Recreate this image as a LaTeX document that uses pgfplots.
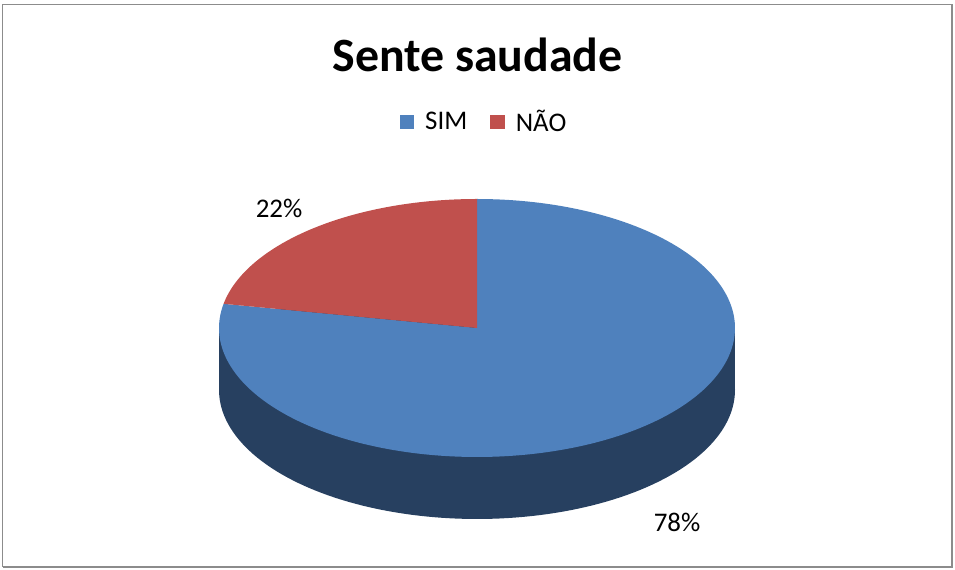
\documentclass[border=0pt]{standalone}
\usepackage{pgfplots}
\pgfplotsset{compat=1.18}
\usepackage{fontspec}
\setmainfont{Carlito}
\definecolor{simtop}{RGB}{79,129,189}
\definecolor{naotop}{RGB}{192,80,77}
\definecolor{simside}{RGB}{39,64,96}
\definecolor{framegray}{RGB}{140,140,140}
% data (percent)
\def\simval{78}
\def\naoval{22}
\begin{document}
\begin{tikzpicture}
\pgfmathsetmacro{\aend}{90-3.6*\simval}
\begin{axis}[
  scale only axis, width=955bp, height=570bp,
  xmin=0, xmax=955, ymin=0, ymax=570,
  axis lines=none, clip=false,
  legend style={at={(axis cs:484,448)}, anchor=center, draw=none, fill=none,
    font=\fontsize{27}{30}\selectfont, legend columns=-1,
    /tikz/every odd column/.append style={column sep=9bp},
    /tikz/every even column/.append style={column sep=21bp}},
  legend image code/.code={\fill[#1] (0bp,-7.5bp) rectangle (14.5bp,7bp);},
]
\path (axis cs:0,0) rectangle (axis cs:955,570);
% frame
\addplot[draw=framegray, line width=1.5bp, forget plot] coordinates {(2.5,3) (952,3) (952,565.5) (2.5,565.5) (2.5,3)};
% side (depth)
\addplot[fill=simside, draw=none, forget plot, domain=0:360, samples=200, variable=\t]
  ({477+258*cos(\t)},{180+129*sin(\t)});
\addplot[fill=simside, draw=none, forget plot] coordinates {(219,180) (735,180) (735,242) (219,242)} -- cycle;
% top slices
\addplot[fill=simtop, draw=none, domain=\aend:90, samples=200, variable=\t]
  ({477+258*cos(\t)},{242+129*sin(\t)}) -- (axis cs:477,242) -- cycle;
\addplot[fill=naotop, draw=none, domain=90:{90+3.6*\naoval}, samples=80, variable=\t]
  ({477+258*cos(\t)},{242+129*sin(\t)}) -- (axis cs:477,242) -- cycle;
\legend{SIM, NÃO}
% title and labels
\node[anchor=base, font=\fontsize{48}{52}\selectfont\bfseries] at (axis cs:477.5,498) {Sente saudade};
\node[font=\fontsize{27}{30}\selectfont] at (axis cs:279,362) {\naoval\%};
\node[font=\fontsize{27}{30}\selectfont] at (axis cs:677,48) {\simval\%};
\end{axis}
\end{tikzpicture}
\end{document}
